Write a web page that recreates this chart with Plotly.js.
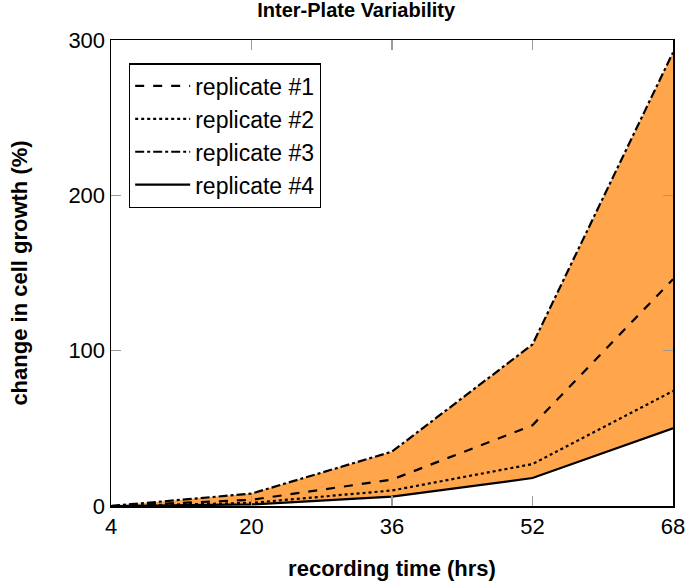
<!DOCTYPE html>
<html>
<head>
<meta charset="utf-8">
<script src="https://cdn.plot.ly/plotly-3.0.1.min.js"></script>
<style>html,body{margin:0;padding:0;background:#fff;}</style>
</head>
<body>
<div id="chart" style="width:685px;height:581px;"></div>
<script>
const hours = [4, 20, 36, 52, 68];
const rep1 = [0, 4, 17, 52, 146];
const rep2 = [0, 2, 10, 27, 74];
const rep3 = [0, 8, 35, 104, 292];
const rep4 = [0, 1, 6, 18, 50];
const names = ['replicate #1', 'replicate #2', 'replicate #3', 'replicate #4'];
const xTicks = [4, 20, 36, 52, 68];
const yTicks = [0, 100, 200, 300];

const fillColor = '#FFA64D';
const traces = [
  {x: hours, y: rep4, mode: 'lines', line: {width: 0, color: fillColor}, showlegend: false, hoverinfo: 'skip'},
  {x: hours, y: rep3, mode: 'lines', fill: 'tonexty', fillcolor: fillColor, line: {width: 0, color: fillColor}, showlegend: false, hoverinfo: 'skip'},
  {x: hours, y: rep1, name: names[0], mode: 'lines', line: {color: 'black', width: 2.2, dash: 'dash'}},
  {x: hours, y: rep2, name: names[1], mode: 'lines', line: {color: 'black', width: 2.2, dash: 'dot'}},
  {x: hours, y: rep3, name: names[2], mode: 'lines', line: {color: 'black', width: 2.2, dash: 'dashdot'}},
  {x: hours, y: rep4, name: names[3], mode: 'lines', line: {color: 'black', width: 2.2, dash: 'solid'}}
];

const font = 'Liberation Sans, Arial, Helvetica, sans-serif';
const layout = {
  width: 685, height: 581,
  margin: {l: 111, r: 12, t: 40, b: 75},
  paper_bgcolor: '#fff', plot_bgcolor: '#fff',
  font: {family: font, color: 'black', size: 22},
  title: {text: '<b>Inter-Plate Variability</b>', font: {size: 20, family: font, color: 'black'}, x: 0.52, xanchor: 'center', y: 0.995, yanchor: 'top'},
  xaxis: {
    range: [4, 68], tickvals: xTicks, ticktext: xTicks.map(String),
    ticks: 'inside', ticklen: 10, tickcolor: '#999', tickwidth: 1.5,
    showline: true, linecolor: 'black', linewidth: 1.5, mirror: 'ticks',
    showgrid: false, zeroline: false, ticklabeloverflow: 'allow',
    tickfont: {size: 22},
    title: {text: '<b>recording time (hrs)</b>', font: {size: 22}, standoff: 22}
  },
  yaxis: {
    range: [0, 300], tickvals: yTicks, ticktext: yTicks.map(String),
    ticks: 'inside', ticklen: 10, tickcolor: '#999', tickwidth: 1.5,
    showline: true, linecolor: 'black', linewidth: 1.5, mirror: 'ticks',
    showgrid: false, zeroline: false, ticklabeloverflow: 'allow',
    tickfont: {size: 22},
    title: {text: '<b>change in cell growth (%)</b>', font: {size: 22}, standoff: 34}
  },
  legend: {
    x: 0.032, y: 0.95, xanchor: 'left', yanchor: 'top',
    bgcolor: 'white', bordercolor: 'black', borderwidth: 1.2,
    font: {size: 23}, tracegroupgap: 0, traceorder: 'normal', itemwidth: 55
  },
  showlegend: true
};

Plotly.newPlot('chart', traces, layout, {displayModeBar: false, staticPlot: true});
</script>
</body>
</html>
